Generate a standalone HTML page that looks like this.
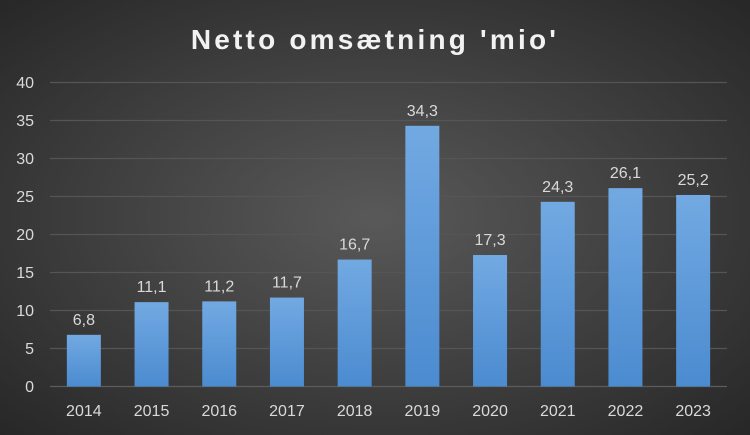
<!DOCTYPE html>
<html><head><meta charset="utf-8"><style>
html,body{margin:0;padding:0;width:750px;height:435px;overflow:hidden}
</style></head><body>
<svg width="750" height="435" xmlns="http://www.w3.org/2000/svg" font-family="Liberation Sans, sans-serif">
<defs>
<radialGradient id="bg" cx="50%" cy="50%" r="75%">
<stop offset="0" stop-color="#595959"/><stop offset="1" stop-color="#242424"/>
</radialGradient>
<linearGradient id="bar" x1="0" y1="0" x2="0" y2="1">
<stop offset="0" stop-color="#72a9e2"/><stop offset="1" stop-color="#4b8bd0"/>
</linearGradient>
</defs>
<rect width="750" height="435" fill="url(#bg)"/>
<text x="375" y="49" text-anchor="middle" fill="#f2f2f2" font-size="28" font-weight="bold" letter-spacing="3.2">Netto omsætning 'mio'</text>
<g stroke="#555" stroke-width="1.3">
<line x1="50" x2="727" y1="82.5" y2="82.5"/><line x1="50" x2="727" y1="120.5" y2="120.5"/>
<line x1="50" x2="727" y1="158.5" y2="158.5"/><line x1="50" x2="727" y1="196.5" y2="196.5"/>
<line x1="50" x2="727" y1="234.5" y2="234.5"/><line x1="50" x2="727" y1="272.5" y2="272.5"/>
<line x1="50" x2="727" y1="310.5" y2="310.5"/><line x1="50" x2="727" y1="348.5" y2="348.5"/>
</g>
<line x1="50" x2="727" y1="386.5" y2="386.5" stroke="#5c5c5c" stroke-width="1.3"/>
<g fill="#d9d9d9" font-size="16" text-anchor="end">
<text x="34" y="88">40</text><text x="34" y="126">35</text><text x="34" y="164">30</text><text x="34" y="202">25</text>
<text x="34" y="240">20</text><text x="34" y="278">15</text><text x="34" y="316">10</text><text x="34" y="354">5</text><text x="34" y="392">0</text>
</g>
<g id="bars"></g>
<script>
var v=[6.8,11.1,11.2,11.7,16.7,34.3,17.3,24.3,26.1,25.2],g=document.getElementById('bars'),ns='http://www.w3.org/2000/svg';
v.forEach(function(d,i){var cx=50+67.7*(i+0.5),h=d*7.6,y=386.5-h;
var r=document.createElementNS(ns,'rect');r.setAttribute('x',cx-17);r.setAttribute('y',y);r.setAttribute('width',34);r.setAttribute('height',h);r.setAttribute('fill','url(#bar)');g.appendChild(r);
var t=document.createElementNS(ns,'text');t.setAttribute('x',cx);t.setAttribute('y',y-10);t.setAttribute('text-anchor','middle');t.setAttribute('fill','#d9d9d9');t.setAttribute('font-size','16');t.textContent=String(d).replace('.',',');g.appendChild(t);
var l=document.createElementNS(ns,'text');l.setAttribute('x',cx);l.setAttribute('y',416);l.setAttribute('text-anchor','middle');l.setAttribute('fill','#d9d9d9');l.setAttribute('font-size','16');l.textContent=2014+i;g.appendChild(l);});
</script>
</svg>
</body></html>
